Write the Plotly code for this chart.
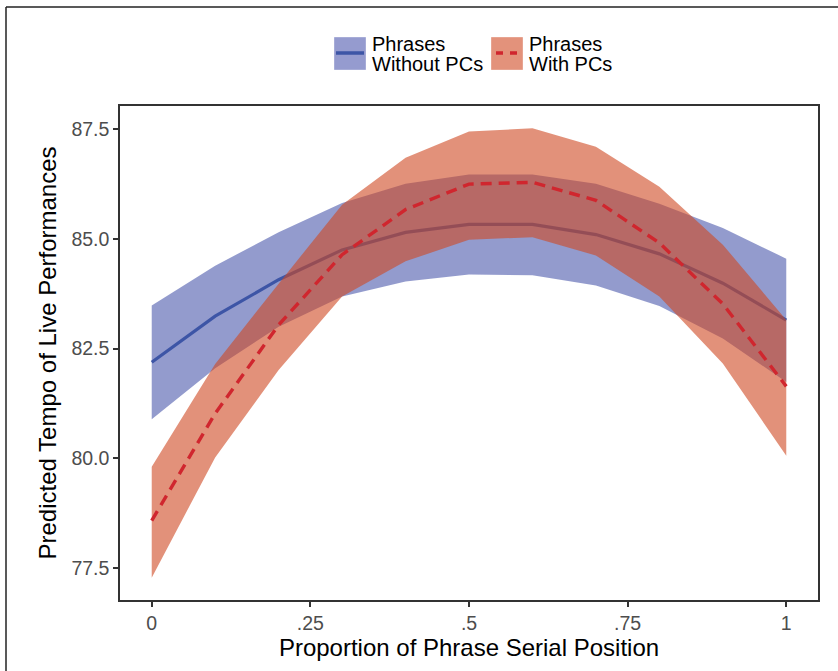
import plotly.graph_objects as go

# ---- data ----
position = [0.0, 0.1, 0.2, 0.3, 0.4, 0.5, 0.6, 0.7, 0.8, 0.9, 1.0]

without_fit   = [82.19, 83.24, 84.07, 84.75, 85.15, 85.33, 85.33, 85.10, 84.66, 83.99, 83.15]
without_upper = [83.48, 84.39, 85.15, 85.82, 86.26, 86.47, 86.47, 86.26, 85.80, 85.25, 84.55]
without_lower = [80.89, 82.05, 83.00, 83.69, 84.03, 84.19, 84.17, 83.94, 83.47, 82.73, 81.74]

with_fit   = [78.58, 81.02, 83.04, 84.64, 85.67, 86.25, 86.29, 85.88, 84.91, 83.52, 81.64]
with_upper = [79.81, 82.15, 83.98, 85.78, 86.85, 87.45, 87.52, 87.10, 86.19, 84.87, 83.15]
with_lower = [77.28, 80.02, 82.01, 83.69, 84.49, 84.98, 85.04, 84.62, 83.69, 82.16, 80.06]

x_tickvals = [0, 0.25, 0.5, 0.75, 1]
x_ticktext = ["0", ".25", ".5", ".75", "1"]
y_tickvals = [77.5, 80.0, 82.5, 85.0, 87.5]
y_ticktext = ["77.5", "80.0", "82.5", "85.0", "87.5"]

legend_labels = [["Phrases", "Without PCs"], ["Phrases", "With PCs"]]

# ---- style ----
W, H = 838, 671
ML, MR, MT, MB = 120, 20, 106, 71
PW, PH = W - ML - MR, H - MT - MB
FONT = "Liberation Sans, Arial, sans-serif"

BLUE_FILL = "rgba(75,88,172,0.6)"
RED_FILL = "rgba(207,72,33,0.6)"
BLUE_LINE = "#3D55A6"
RED_LINE = "#D0262E"


def px(x):
    return (x - ML) / PW


def py(y):
    return (H - MB - y) / PH


fig = go.Figure()

# blue band
fig.add_trace(go.Scatter(
    x=position + position[::-1], y=without_upper + without_lower[::-1],
    fill="toself", fillcolor=BLUE_FILL, line=dict(width=0), mode="lines",
    hoverinfo="skip", showlegend=False))
fig.add_trace(go.Scatter(
    x=position, y=without_fit, mode="lines",
    line=dict(color=BLUE_LINE, width=3.2), showlegend=False))
# red band
fig.add_trace(go.Scatter(
    x=position + position[::-1], y=with_upper + with_lower[::-1],
    fill="toself", fillcolor=RED_FILL, line=dict(width=0), mode="lines",
    hoverinfo="skip", showlegend=False))
fig.add_trace(go.Scatter(
    x=position, y=with_fit, mode="lines",
    line=dict(color=RED_LINE, width=3.4, dash="11px,7px"), showlegend=False))

shapes = []
annotations = []

# outer frame (left & top edges of the cropped figure)
shapes.append(dict(type="line", xref="paper", yref="paper",
                   x0=px(6), x1=px(6), y0=py(7), y1=py(H + 5),
                   line=dict(color="#222", width=1.5)))
shapes.append(dict(type="line", xref="paper", yref="paper",
                   x0=px(6), x1=px(W + 5), y0=py(7), y1=py(7),
                   line=dict(color="#222", width=1.5)))

# manual legend
leg = [
    (334, "rgb(149,155,207)", BLUE_LINE, "solid", legend_labels[0], 372, 2, 30),
    (491, "rgb(227,146,123)", RED_LINE, "7px,7px", legend_labels[1], 529, 5, 28),
]
for x0, fillc, linec, dash, label, tx, l0, l1 in leg:
    shapes.append(dict(type="rect", xref="paper", yref="paper",
                       x0=px(x0), x1=px(x0 + 32), y0=py(37), y1=py(70),
                       fillcolor=fillc, line=dict(color="rgba(255,255,255,0.35)", width=1)))
    shapes.append(dict(type="line", xref="paper", yref="paper",
                       x0=px(x0 + l0), x1=px(x0 + l1), y0=py(53), y1=py(53),
                       line=dict(color=linec, width=3.5, dash=dash)))
    for i, line_txt in enumerate(label):
        annotations.append(dict(xref="paper", yref="paper", x=px(tx - 2),
                                y=py(44 + 20 * i),
                                xanchor="left", yanchor="middle", align="left",
                                text=line_txt, showarrow=False,
                                font=dict(family=FONT, size=20, color="#000")))

fig.update_layout(
    width=W, height=H,
    margin=dict(l=ML, r=MR, t=MT, b=MB),
    paper_bgcolor="white", plot_bgcolor="white",
    showlegend=False,
    font=dict(family=FONT),
    shapes=shapes, annotations=annotations,
    xaxis=dict(
        range=[-0.05, 1.05], tickvals=x_tickvals, ticktext=x_ticktext,
        ticks="outside", ticklen=5, tickwidth=2, tickcolor="#333",
        showline=True, linecolor="#333", linewidth=1.5, mirror=True,
        showgrid=False, zeroline=False, ticklabelstandoff=0,
        tickfont=dict(family=FONT, size=19.5, color="#4d4d4d"),
        title=dict(text="Proportion of Phrase Serial Position",
                   font=dict(family=FONT, size=24, color="#000"), standoff=2),
    ),
    yaxis=dict(
        range=[76.77, 88.03], tickvals=y_tickvals, ticktext=y_ticktext,
        ticks="outside", ticklen=5, tickwidth=2, tickcolor="#333",
        showline=True, linecolor="#333", linewidth=1.5, mirror=True,
        showgrid=False, zeroline=False,
        tickfont=dict(family=FONT, size=19.5, color="#4d4d4d"),
        title=dict(text="Predicted Tempo of Live Performances",
                   font=dict(family=FONT, size=24, color="#000"), standoff=8),
    ),
)

fig.write_html("out.html", config={"displayModeBar": False},
               post_script="document.body.style.margin='0';document.body.style.overflow='hidden';")
